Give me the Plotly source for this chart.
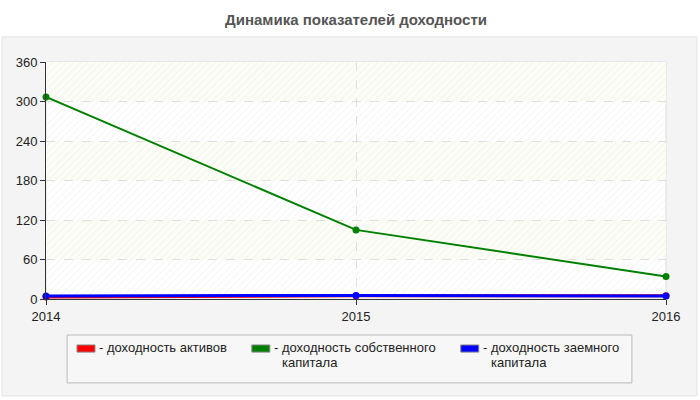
import plotly.graph_objects as go

years = [2014, 2015, 2016]
assets = [3, 5, 5]
equity = [307, 105, 34]
borrowed = [4.5, 5.5, 4.5]
y_ticks = [0, 60, 120, 180, 240, 300, 360]

names = ['доходность активов', 'доходность собственного<br>капитала', 'доходность заемного<br>капитала']
colors = ['#ff0000', '#008000', '#0000ff']
widths = [3, 2, 3]

font = 'Liberation Sans, Arial, sans-serif'

fig = go.Figure()

# hatched background of the plot area
fig.add_trace(go.Bar(x=[sum(years) / len(years)], y=[y_ticks[-1]], width=[years[-1] - years[0]],
                     marker=dict(color='rgba(0,0,0,0)', line_width=0,
                                 pattern=dict(shape='/', fgcolor='#eeeeee', bgcolor='rgba(0,0,0,0)',
                                              size=5, solidity=0.25)),
                     hoverinfo='skip', showlegend=False))

for vals, name, c, w in zip([assets, equity, borrowed], names, colors, widths):
    fig.add_trace(go.Scatter(x=years, y=vals, mode='lines+markers', name=name.replace('<br>', ' '),
                             line=dict(color=c, width=w), marker=dict(color=c, size=7),
                             cliponaxis=False, showlegend=False))

shapes = []
# tinted bands
for i in range(1, len(y_ticks) - 1, 2):
    shapes.append(dict(type='rect', xref='paper', yref='y', x0=0, x1=1, y0=y_ticks[i], y1=y_ticks[i + 1],
                       fillcolor='#fcfdf5', line_width=0, layer='below'))
# outer panel
shapes.insert(0, dict(type='rect', xref='paper', yref='paper', x0=-0.071, x1=1.05, y0=-0.409, y1=1.106,
                      fillcolor='#f4f4f4', line=dict(color='#e4e4e4', width=1), layer='below'))
shapes.insert(1, dict(type='rect', xref='paper', yref='paper', x0=0, x1=1, y0=0, y1=1,
                      fillcolor='#ffffff', line=dict(color='#dddddd', width=1), layer='below'))
# legend box
shapes.append(dict(type='rect', xref='paper', yref='paper', x0=0.034, x1=0.945, y0=-0.354, y1=-0.152,
                   fillcolor='#f7f7f7', line=dict(color='#bbbbbb', width=1)))

annotations = []
leg_x = [0.05, 0.332, 0.669]
for lx, name, c in zip(leg_x, names, colors):
    shapes.append(dict(type='rect', xref='paper', yref='paper', x0=lx, x1=lx + 0.029, y0=-0.224, y1=-0.194,
                       fillcolor=c, line=dict(color='#888888', width=1)))
    lines = name.split('<br>')
    for k, txt in enumerate(lines):
        annotations.append(dict(xref='paper', yref='paper', x=lx + 0.033 + (0.012 if k else 0),
                                y=-0.203 - 0.064 * k, text=('- ' if k == 0 else '') + txt, showarrow=False,
                                xanchor='left', yanchor='middle', align='left',
                                font=dict(family=font, size=13, color='#222222')))

fig.update_layout(
    width=700, height=400,
    margin=dict(l=46, r=34, t=62, b=101),
    paper_bgcolor='#ffffff', plot_bgcolor='rgba(0,0,0,0)',
    title=dict(text='<b>Динамика показателей доходности</b>', x=0.5, xref='paper', xanchor='center',
               y=0.95, yanchor='middle', font=dict(family=font, size=15, color='#555555')),
    font=dict(family=font, size=13, color='#222222'),
    shapes=shapes, annotations=annotations,
    showlegend=False,
    bargap=0,
)
fig.update_xaxes(range=[years[0], years[-1]], tickvals=years, ticks='outside', ticklen=5,
                 tickcolor='#333333', showline=True, linecolor='#333333', linewidth=1,
                 showgrid=True, gridcolor='#dddddd', griddash='dash', zeroline=False,
                 tickfont=dict(size=13, color='#222222'))
fig.update_yaxes(range=[y_ticks[0], y_ticks[-1]], tickvals=y_ticks, ticks='outside', ticklen=5,
                 tickcolor='#333333', showline=True, linecolor='#333333', linewidth=1,
                 showgrid=True, gridcolor='#dddddd', griddash='dash', zeroline=False,
                 tickfont=dict(size=13, color='#222222'))

fig.write_html("out.html", config={'displayModeBar': False},
               post_script="document.body.style.margin='0';")
